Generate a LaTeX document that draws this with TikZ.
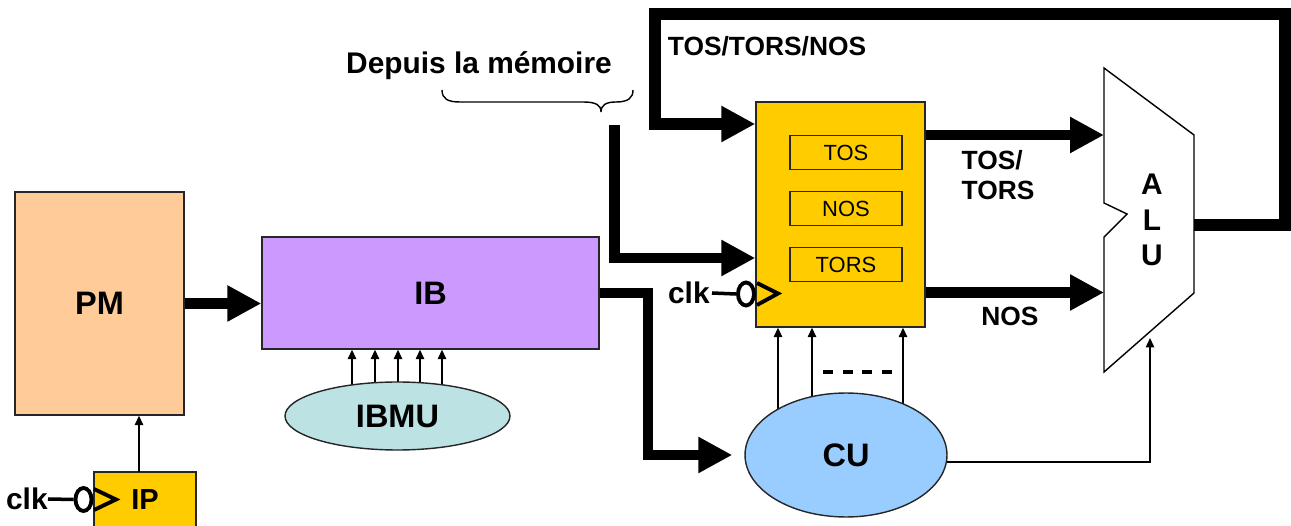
\documentclass[tikz,border=0pt]{standalone}
\usepackage{fontspec}
\setmainfont{Liberation Sans}
\usetikzlibrary{arrows.meta,shapes.geometric,calc,backgrounds}
\definecolor{pmc}{HTML}{FFCC99}
\definecolor{ibc}{HTML}{CC99FF}
\definecolor{ibmuc}{HTML}{BCE2E4}
\definecolor{cuc}{HTML}{99CCFF}
\definecolor{yel}{HTML}{FFCC00}
\begin{document}
\begin{tikzpicture}[x=0.02cm,y=-0.02cm,
  box/.style={draw=black!85, line width=0.8pt, inner sep=0pt},
  big/.style={font=\fontsize{18.5}{21}\selectfont\bfseries},
  lab/.style={font=\fontsize{15}{17}\selectfont\bfseries, inner sep=0pt},
  clkfont/.style={font=\fontsize{17}{19}\selectfont\bfseries, inner sep=0pt},
  reg/.style={box, fill=yel, minimum width=2.24cm, minimum height=0.68cm, font=\fontsize{12.5}{14}\selectfont},
  thickarrow/.style={line width=6pt, -{Triangle[length=0.68cm,width=0.68cm]}},
  thinarrow/.style={line width=0.8pt, -{Triangle[length=0.19cm,width=0.17cm]}},
  inv/.style={draw, ellipse, line width=2.2pt, minimum width=0.32cm, minimum height=0.46cm, inner sep=0pt},
  clkline/.style={line width=2pt},
]
\useasboundingbox (0,0) rectangle (1291,526);

% blocks
\node[box, fill=pmc, minimum width=3.38cm, minimum height=4.46cm, big] (pm) at (99.5,303.5) {PM};
\node[box, fill=yel, minimum width=2.04cm, minimum height=1.12cm, font=\fontsize{16.5}{18}\selectfont\bfseries] (ip) at (145,500) {IP};
\node[box, fill=ibc, minimum width=6.74cm, minimum height=2.24cm, big] (ib) at (430.5,293) {IB};
\node[box, ellipse, fill=ibmuc, minimum width=4.5cm, minimum height=1.36cm, big] (ibmu) at (397.5,416) {IBMU};
\node[box, ellipse, fill=cuc, minimum width=4.04cm, minimum height=2.48cm, big] (cu) at (846,455) {CU};
\node[box, fill=yel, minimum width=3.38cm, minimum height=4.5cm] (stack) at (840.5,214.5) {};
\node[reg] (tos) at (846,152.5) {TOS};
\node[reg] (nos) at (846,208.7) {NOS};
\node[reg] (tors) at (846,264.7) {TORS};

% ALU
\draw[line width=0.8pt, fill=white] (1104,68) -- (1194,135) -- (1194,293) -- (1104,372) -- (1104,237) -- (1127,214) -- (1104,203) -- cycle;
\node[font=\fontsize{17}{20.4}\selectfont\bfseries, align=center, inner sep=0pt] (alu) at (1152,220) {A\\L\\U};
\coordinate (aluin1) at (1104,135);
\coordinate (aluin2) at (1104,292.5);
\coordinate (aluin3) at (1150,338);
\coordinate (aluout) at (1194,225);

% clocks
\node[clkfont, anchor=east] (clk1) at (48,499) {clk};
\node[inv] (inv1) at (83.5,499.5) {};
\draw[clkline] (clk1.east) -- (inv1.west);
\draw[line width=2.2pt] (94,489) -- (116,499.5) -- (94,510);

\node[clkfont, anchor=east] (clk2) at (710,293) {clk};
\node[inv] (inv2) at (746,294) {};
\draw[clkline] (clk2.east) ++(2,0) -- (inv2.west);
\draw[line width=2.2pt] (757,283) -- (778,293.5) -- (757,305);

% connectors
\draw[thickarrow] (pm.east) -- (pm.east -| ib.west);
\coordinate (ipc) at (139,472);
\draw[thinarrow] (ipc) -- (ipc |- pm.south);
\draw[thickarrow, shorten >=0.24cm] (ib.east) -- (648,293) -- (648,455) -- (cu.west);
\coordinate (mem) at (614.5,125);
\draw[thickarrow] (mem) |- ($(stack.west)+(0,43.5)$);
\draw[thickarrow, line width=6.3pt] (aluout) -- (1285,225) -- (1285,14) -- (655,14) |- ($(stack.west)+(0,-90.5)$);
\draw[thickarrow] (aluin1 -| stack.east) -- (aluin1);
\draw[thickarrow] (aluin2 -| stack.east) -- (aluin2);
\draw[thinarrow] (cu.-4) -| (aluin3);

\begin{scope}[on background layer]
\foreach \x in {352,375,398,420,442} {
  \coordinate (i\x) at (\x,0);
  \draw[thinarrow] (ibmu.center -| i\x) -- (i\x |- ib.south);
}
\foreach \x in {778,812,903} {
  \coordinate (c\x) at (\x,0);
  \draw[thinarrow] (cu.center -| c\x) -- (c\x |- stack.south);
}
\end{scope}
\draw[line width=1.8pt, dash pattern=on 0.2cm off 0.193cm] (823,372) -- (892,372);

% brace and labels
\draw[line width=0.8pt] (442,90) .. controls (442,99) and (448,102) .. (460,102) -- (583,102) .. controls (596,102) and (601,105) .. (601,112) .. controls (601,105) and (606,102) .. (616,102) .. controls (628,102) and (633,98) .. (633,90);
\node[font=\fontsize{17}{19}\selectfont\bfseries, inner sep=0pt] (memlab) at (479,66) {Depuis la mémoire};
\node[lab] (fblab) at (767,46) {TOS/TORS/NOS};
\node[lab, align=left] (toslab) at (998,175) {TOS/\\TORS};
\node[lab] (noslab) at (1010,316) {NOS};
\end{tikzpicture}
\end{document}
